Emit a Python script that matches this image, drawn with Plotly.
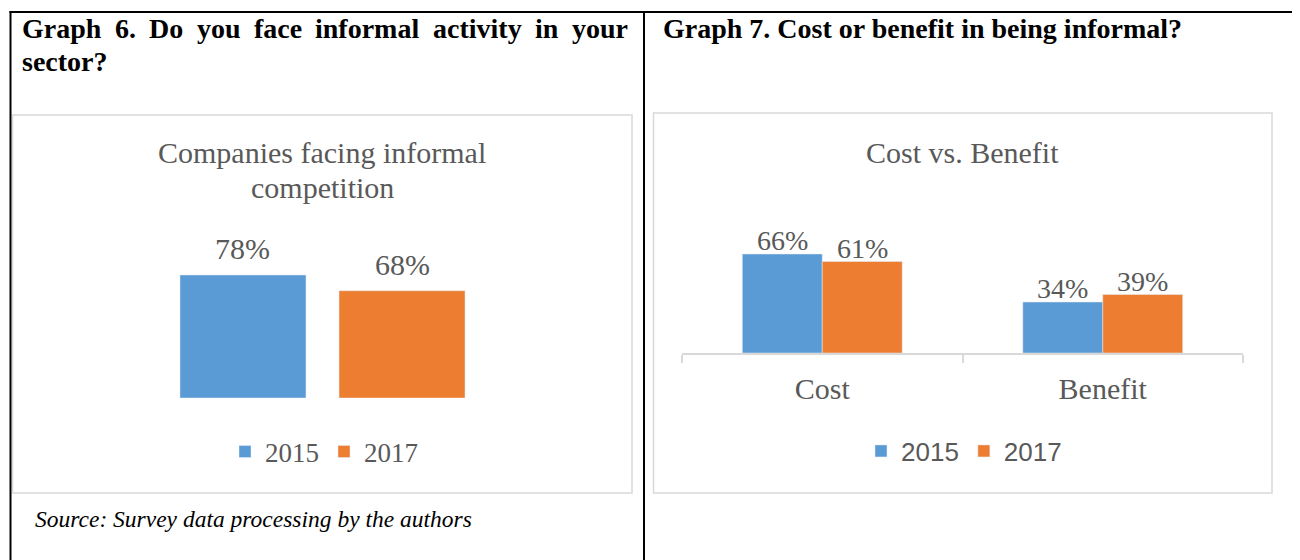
import plotly.graph_objects as go

# ---------------- data ----------------
years = ["2015", "2017"]
left_categories = ["Companies facing informal competition"]
left_2015 = [78]
left_2017 = [68]
right_categories = ["Cost", "Benefit"]
right_2015 = [66, 34]
right_2017 = [61, 39]

left_title_lines = ["Companies facing informal", "competition"]
right_title = "Cost vs. Benefit"
heading6_line1 = ["Graph", "6.", "Do", "you", "face", "informal", "activity", "in", "your"]
heading6_line2 = "sector?"
heading7 = "Graph 7. Cost or benefit in being informal?"
source_text = "Source: Survey data processing by the authors"

# ---------------- style ----------------
W, H = 1300, 560
OFF = 8  # page body margin
BLUE = "#5B9BD5"
ORANGE = "#ED7D31"
GREY_TXT = "#595959"
BOX = "#D9D9D9"
SERIF = "Liberation Serif"
SANS = "Liberation Sans"


def px(x):
    return (x - OFF) / W


def py(y):
    return 1 - (y - OFF) / H


fig = go.Figure()

# left chart: single category, two series
LEFT_CAT_PX = 558
left_bar_w = 126 / LEFT_CAT_PX
fig.add_trace(go.Bar(x=left_categories, y=left_2015, name=years[0], marker_color=BLUE,
                     width=left_bar_w, xaxis="x", yaxis="y", legend="legend"))
fig.add_trace(go.Bar(x=left_categories, y=left_2017, name=years[1], marker_color=ORANGE,
                     width=left_bar_w, xaxis="x", yaxis="y", legend="legend"))

# right chart
fig.add_trace(go.Bar(x=right_categories, y=right_2015, name=years[0], marker_color=BLUE,
                     xaxis="x2", yaxis="y2", legend="legend2"))
fig.add_trace(go.Bar(x=right_categories, y=right_2017, name=years[1], marker_color=ORANGE,
                     xaxis="x2", yaxis="y2", legend="legend2"))

# ---------------- shapes: table lines and chart boxes ----------------
shapes = [
    dict(type="line", xref="paper", yref="paper", x0=px(9.5), x1=1.0, y0=py(12), y1=py(12),
         line=dict(color="black", width=2)),
    dict(type="line", xref="paper", yref="paper", x0=px(10.5), x1=px(10.5), y0=py(11), y1=py(570),
         line=dict(color="black", width=2)),
    dict(type="line", xref="paper", yref="paper", x0=px(644), x1=px(644), y0=py(11), y1=py(570),
         line=dict(color="black", width=2)),
    dict(type="rect", xref="paper", yref="paper", x0=px(12.5), x1=px(632), y0=py(115), y1=py(493),
         line=dict(color=BOX, width=1.5), layer="below"),
    dict(type="rect", xref="paper", yref="paper", x0=px(653.5), x1=px(1272), y0=py(113), y1=py(493),
         line=dict(color=BOX, width=1.5), layer="below"),
]

# ---------------- annotations ----------------
ann = []
# justified heading line (Times/Liberation Serif Bold advance widths, 1/1000 em)
tb = {"G": 778, "r": 444, "a": 500, "p": 556, "h": 556, "6": 500, ".": 250, "D": 722, "o": 500,
      "y": 500, "u": 556, "f": 333, "c": 444, "e": 444, "i": 278, "n": 556, "m": 833, "l": 278,
      "t": 333, "v": 500}
HS = 28
left_edge, right_edge = 21, 627
wlen = [sum(tb[c] for c in w) * HS / 1000 for w in heading6_line1]
gap = (right_edge - left_edge - sum(wlen)) / (len(wlen) - 1)
xcur = left_edge
for w, wl in zip(heading6_line1, wlen):
    ann.append(dict(text=w, x=px(xcur), y=py(29), xref="paper", yref="paper", xanchor="left",
                    yanchor="middle", showarrow=False, borderpad=0,
                    font=dict(family=SERIF, size=HS, color="black", weight="bold")))
    xcur += wl + gap
ann.append(dict(text=heading6_line2, x=px(21), y=py(61), xref="paper", yref="paper", xanchor="left",
                yanchor="middle", showarrow=False, borderpad=0,
                font=dict(family=SERIF, size=HS, color="black", weight="bold")))
ann.append(dict(text=heading7, x=px(662), y=py(29), xref="paper", yref="paper", xanchor="left",
                yanchor="middle", showarrow=False, borderpad=0,
                font=dict(family=SERIF, size=HS, color="black", weight="bold")))
# chart titles
ann.append(dict(text=left_title_lines[0], x=px(322), y=py(153), xref="paper", yref="paper",
                xanchor="center", yanchor="middle", showarrow=False,
                font=dict(family=SERIF, size=30, color=GREY_TXT)))
ann.append(dict(text=left_title_lines[1], x=px(322), y=py(188), xref="paper", yref="paper",
                xanchor="center", yanchor="middle", showarrow=False,
                font=dict(family=SERIF, size=30, color=GREY_TXT)))
ann.append(dict(text=right_title, x=px(962), y=py(152), xref="paper", yref="paper",
                xanchor="center", yanchor="middle", showarrow=False,
                font=dict(family=SERIF, size=30, color=GREY_TXT)))
# source
ann.append(dict(text=f"<i>{source_text}</i>", x=px(33), y=py(519), xref="paper", yref="paper",
                xanchor="left", yanchor="middle", showarrow=False,
                font=dict(family=SERIF, size=23.5, color="black")))

# data labels (placed at each bar's value, shifted to the bar's slot within the group)
left_half_slot = LEFT_CAT_PX * (1 - 0.43) / 4
for cat, v in zip(left_categories, left_2015):
    ann.append(dict(text=f"{v}%", x=cat, y=v, xref="x", yref="y", xshift=-left_half_slot, yshift=8,
                    xanchor="center", yanchor="bottom", showarrow=False,
                    font=dict(family=SERIF, size=30, color=GREY_TXT)))
for cat, v in zip(left_categories, left_2017):
    ann.append(dict(text=f"{v}%", x=cat, y=v, xref="x", yref="y", xshift=left_half_slot, yshift=8,
                    xanchor="center", yanchor="bottom", showarrow=False,
                    font=dict(family=SERIF, size=30, color=GREY_TXT)))
right_half_slot = (1243 - 682) / 2 * (1 - 0.43) / 4
for cat, v in zip(right_categories, right_2015):
    ann.append(dict(text=f"{v}%", x=cat, y=v, xref="x2", yref="y2", xshift=-right_half_slot, yshift=-4,
                    xanchor="center", yanchor="bottom", showarrow=False,
                    font=dict(family=SERIF, size=28, color=GREY_TXT)))
for cat, v in zip(right_categories, right_2017):
    ann.append(dict(text=f"{v}%", x=cat, y=v, xref="x2", yref="y2", xshift=right_half_slot, yshift=-4,
                    xanchor="center", yanchor="bottom", showarrow=False,
                    font=dict(family=SERIF, size=28, color=GREY_TXT)))

fig.update_layout(
    width=W, height=H,
    margin=dict(l=0, r=0, t=0, b=0),
    paper_bgcolor="white", plot_bgcolor="rgba(0,0,0,0)",
    barmode="group", bargap=0.43, bargroupgap=0,
    shapes=shapes, annotations=ann,
    xaxis=dict(domain=[px(322.5 - LEFT_CAT_PX / 2), px(322.5 + LEFT_CAT_PX / 2)], anchor="y",
               range=[-0.5, 0.5], showticklabels=False, showline=False, showgrid=False,
               zeroline=False, ticks=""),
    yaxis=dict(domain=[py(398), py(398 - 157.7)], anchor="x", range=[0, 100],
               visible=False, showgrid=False, zeroline=False),
    xaxis2=dict(domain=[px(682), px(1243)], anchor="y2", range=[-0.5, 1.5],
                showline=True, linecolor=BOX, linewidth=1.5, ticks="outside", tickson="boundaries",
                ticklen=8, tickcolor=BOX, tickwidth=1.5, showgrid=False, zeroline=False,
                ticklabelstandoff=8,
                tickfont=dict(family=SERIF, size=30, color=GREY_TXT)),
    yaxis2=dict(domain=[py(353), py(353 - 150)], anchor="x2", range=[0, 100],
                visible=False, showgrid=False, zeroline=False),
    legend=dict(orientation="h", x=px(324), xanchor="center", y=py(452), yanchor="middle",
                font=dict(family=SERIF, size=27, color=GREY_TXT), bgcolor="rgba(0,0,0,0)",
                traceorder="normal"),
    legend2=dict(orientation="h", x=px(964), xanchor="center", y=py(451), yanchor="middle",
                 font=dict(family=SANS, size=26, color=GREY_TXT), bgcolor="rgba(0,0,0,0)",
                 traceorder="normal"),
    showlegend=True,
)

fig.write_html("out.html")
